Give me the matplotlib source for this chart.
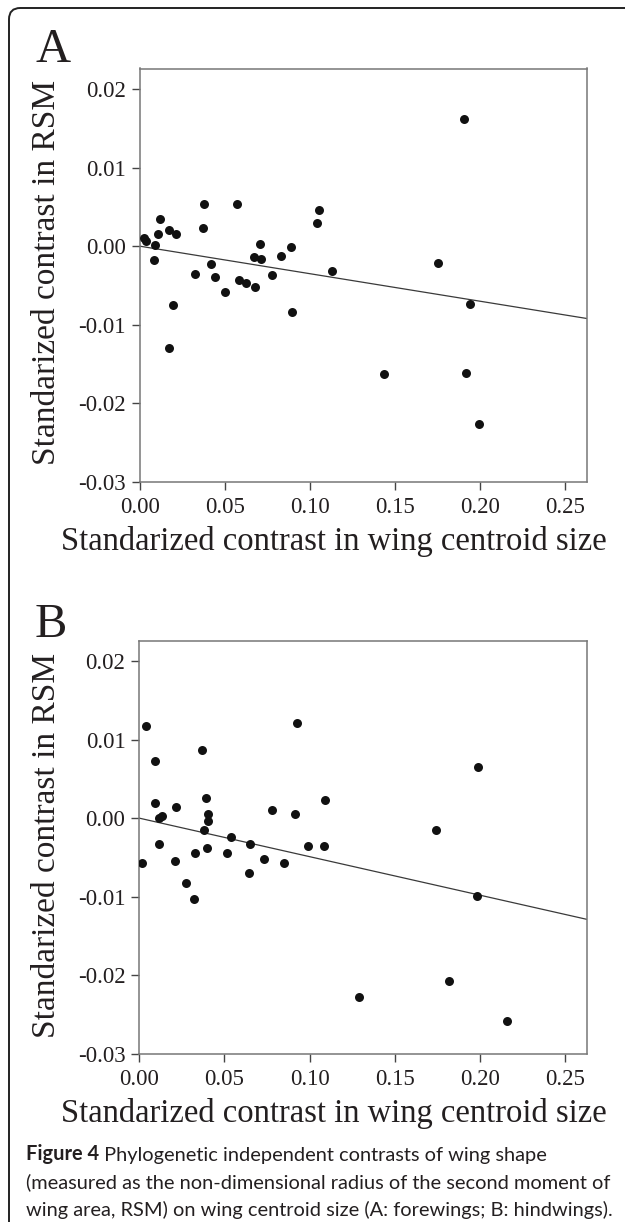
import numpy as np
import matplotlib.pyplot as plt
from matplotlib.patches import FancyBboxPatch

plt.rcParams['font.family'] = ['Liberation Serif', 'DejaVu Serif']
plt.rcParams['axes.unicode_minus'] = False

# panel A: forewings
fore_x = [0.0027, 0.0035, 0.0119, 0.0110, 0.0090, 0.0082, 0.0172, 0.0215, 0.0196,
          0.0174, 0.0380, 0.0374, 0.0323, 0.0421, 0.0442, 0.0499, 0.0572, 0.0583,
          0.0623, 0.0677, 0.0673, 0.0715, 0.0709, 0.0775, 0.0830, 0.0889, 0.0897,
          0.1040, 0.1053, 0.1132, 0.1435, 0.1754, 0.1907, 0.1942, 0.1917, 0.1993]
fore_y = [0.00106, 0.00072, 0.00344, 0.00157, 0.00010, -0.00170, 0.00204, 0.00161,
          -0.00747, -0.01290, 0.00535, 0.00225, -0.00357, -0.00221, -0.00395,
          -0.00581, 0.00535, -0.00429, -0.00467, -0.00514, -0.00140, -0.00166,
          0.00025, -0.00365, -0.00123, -0.00017, -0.00836, 0.00289, 0.00458,
          -0.00314, -0.01626, -0.00212, 0.01621, -0.00730, -0.01613, -0.02258]

# panel B: hindwings
hind_x = [0.0037, 0.0018, 0.0092, 0.0092, 0.0116, 0.0133, 0.0116, 0.0217, 0.0209,
          0.0276, 0.0323, 0.0327, 0.0368, 0.0392, 0.0403, 0.0403, 0.0382, 0.0399,
          0.0515, 0.0538, 0.0650, 0.0644, 0.0734, 0.0779, 0.0850, 0.0916, 0.0926,
          0.0993, 0.1085, 0.1092, 0.1290, 0.1740, 0.1817, 0.1987, 0.1981, 0.2159]
hind_y = [0.01175, -0.00568, 0.00725, 0.00199, 0.00008, 0.00030, -0.00335, 0.00140,
          -0.00547, -0.00823, -0.01030, -0.00450, 0.00874, 0.00254, 0.00047,
          -0.00038, -0.00157, -0.00386, -0.00445, -0.00242, -0.00331, -0.00695,
          -0.00522, 0.00102, -0.00573, 0.00047, 0.01217, -0.00352, -0.00352,
          0.00229, -0.02273, -0.00157, -0.02070, 0.00657, -0.00988, -0.02583]

x_ticks = [0.00, 0.05, 0.10, 0.15, 0.20, 0.25]
y_ticks = [-0.03, -0.02, -0.01, 0.00, 0.01, 0.02]
x_title = 'Standarized contrast in wing centroid size'
y_title = 'Standarized contrast in RSM'
caption_bold = 'Figure 4'
caption_lines = [' Phylogenetic independent contrasts of wing shape',
                 '(measured as the non-dimensional radius of the second moment of',
                 'wing area, RSM) on wing centroid size (A: forewings; B: hindwings).']

W, H = 625, 1222
TEXT = '#231f20'

fig = plt.figure(figsize=(W / 100, H / 100), dpi=100)


def px(x, y):
    # pixel position (from top left) -> figure fraction
    return x / W, 1 - y / H


def draw_panel(rect, xs, ys, label, top_px, bottom_px):
    ax = fig.add_axes(rect)
    xs = np.array(xs)
    ys = np.array(ys)
    ax.scatter(xs, ys, s=42, color='#111111', zorder=3, linewidths=0)
    # PIC regression through the origin
    slope = np.sum(xs * ys) / np.sum(xs * xs)
    ax.axline((0, 0), slope=slope, color='#3a3a3a', lw=0.9, zorder=2)
    ax.set_xlim(0, 0.263)
    ax.set_ylim(-0.03, 0.0226)
    ax.set_xticks(x_ticks)
    ax.set_yticks(y_ticks)
    ax.set_xticklabels(['%.2f' % v for v in x_ticks])
    ax.set_yticklabels(['%.2f' % v for v in y_ticks])
    ax.tick_params(labelsize=16.5, colors='#444444', labelcolor=TEXT,
                   length=6, width=1)
    ax.tick_params(axis='x', pad=5)
    ax.tick_params(axis='y', pad=4)
    for sp in ax.spines.values():
        sp.set_color('#777777')
        sp.set_linewidth(1.1)

    fig.text(*px(35, top_px - 6), label, fontsize=35, color=TEXT,
             ha='left', va='baseline')
    mid = (top_px + bottom_px) / 2 - 3
    fig.text(*px(62, mid), y_title, fontsize=24, color=TEXT, rotation=90,
             ha='right', va='center')
    fig.text(*px(334, bottom_px + 68), x_title, fontsize=23.5, color=TEXT,
             ha='center', va='baseline')
    return ax


draw_panel([139.7 / W, 1 - 482 / H, 447.6 / W, 413.5 / H],
           fore_x, fore_y, 'A', 68, 482)
draw_panel([139.3 / W, 1 - 1053.7 / H, 448 / W, 413 / H],
           hind_x, hind_y, 'B', 643, 1053.7)

# caption, sized so the second line spans the same width as in the figure
cap_font = dict(family=['Lato', 'DejaVu Sans'], fontsize=14, color=TEXT)
renderer = fig.canvas.get_renderer()
probe = fig.text(0, 0, caption_lines[1], **cap_font)
probe_w = probe.get_window_extent(renderer).width
probe.remove()
cap_font['fontsize'] = 14 * 589 / probe_w

t0 = fig.text(*px(26, 1160), caption_bold, fontweight='bold',
              ha='left', va='baseline', **cap_font)
fig.text(*px(26, 1160), '', **cap_font).remove()
plt.annotate(caption_lines[0], xy=(1, 0), xycoords=t0, ha='left', va='bottom',
             annotation_clip=False, **cap_font)
fig.text(*px(26, 1188), caption_lines[1], ha='left', va='baseline', **cap_font)
fig.text(*px(26, 1216), caption_lines[2], ha='left', va='baseline', **cap_font)

# rounded frame around the figure
frame = FancyBboxPatch((9 / W, -0.05), 1.2, 1 - 8 / H + 0.05,
                       boxstyle='round,pad=0,rounding_size=0.018',
                       transform=fig.transFigure, fill=False,
                       edgecolor='#222222', lw=1.4, mutation_aspect=W / H)
fig.patches.append(frame)

fig.savefig('out.png', dpi=100)
